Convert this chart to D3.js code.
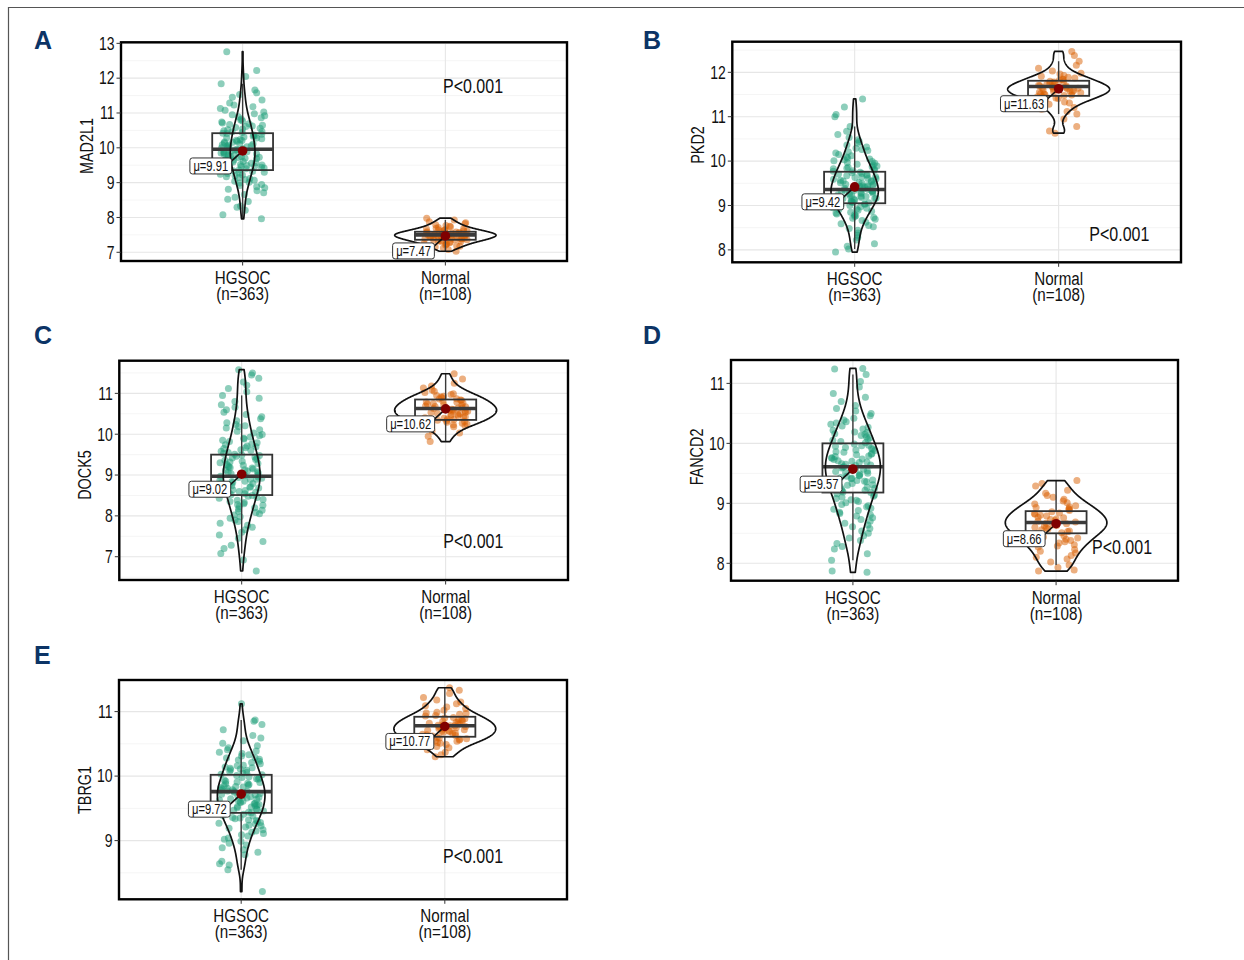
<!DOCTYPE html>
<html>
<head>
<meta charset="utf-8">
<script src="https://cdn.jsdelivr.net/npm/d3@7"></script>
<style>
  body { margin: 0; background: #fff; }
  svg { display: block; }
</style>
</head>
<body>
<svg id="fig" width="1244" height="960"></svg>
<script>
// ---------- data ----------
const groups = ["HGSOC", "Normal"];
const groupN = [363, 108];
const genes = ["MAD2L1", "PKD2", "DOCK5", "FANCD2", "TBRG1"];
const panelLetters = ["A", "B", "C", "D", "E"];
const pLabels = ["P<0.001", "P<0.001", "P<0.001", "P<0.001", "P<0.001"];

const yDomains = [[6.75, 13.03], [7.72, 12.69], [6.43, 11.80], [7.71, 11.39], [8.09, 11.49]];
const yTicks = [[7, 8, 9, 10, 11, 12, 13], [8, 9, 10, 11, 12], [7, 8, 9, 10, 11], [8, 9, 10, 11], [9, 10, 11]];

// group means (labelled) and box statistics [q1, median, q3]
const meanValues = [[9.91, 7.47], [9.42, 11.63], [9.02, 10.62], [9.57, 8.66], [9.72, 10.77]];
const boxStats = [
  [[9.36, 9.96, 10.42], [7.36, 7.50, 7.59]],
  [[9.05, 9.36, 9.76], [11.47, 11.68, 11.81]],
  [[8.51, 8.97, 9.50], [10.35, 10.63, 10.85]],
  [[9.18, 9.61, 10.00], [8.50, 8.68, 8.87]],
  [[9.43, 9.76, 10.02], [10.61, 10.78, 10.92]]
];

// expression values per sample
const MAD2L1_HGSOC = [7.96, 8.08, 8.21, 8.29, 8.33, 8.46, 8.52, 8.58, 8.66, 8.71,
  8.77, 8.81, 8.85, 8.88, 8.92, 8.95, 8.99, 9.01, 9.04, 9.07, 9.09, 9.12, 9.15, 9.17, 9.2, 9.22, 9.24,
  9.26, 9.28, 9.3, 9.32, 9.34, 9.36, 9.38, 9.4, 9.42, 9.44, 9.46, 9.47, 9.49,
  9.51, 9.52, 9.54, 9.56, 9.57, 9.59, 9.61, 9.62, 9.64, 9.65, 9.67, 9.69, 9.7, 9.72, 9.73, 9.74,
  9.76, 9.77, 9.79, 9.8, 9.82, 9.83, 9.85, 9.86, 9.88, 9.89, 9.91, 9.92, 9.94, 9.95, 9.97, 9.99,
  10.0, 10.02, 10.03, 10.05, 10.06, 10.08, 10.09, 10.11, 10.12, 10.14, 10.16, 10.17, 10.19, 10.21, 10.22, 10.24,
  10.26, 10.28, 10.29, 10.31, 10.33, 10.35, 10.37, 10.39, 10.41, 10.42, 10.44, 10.46, 10.47, 10.49,
  10.52, 10.54, 10.56, 10.58, 10.61, 10.63, 10.65, 10.67, 10.69, 10.71, 10.74,
  10.77, 10.8, 10.83, 10.86, 10.89, 10.92, 10.95, 10.98,
  11.03, 11.08, 11.13, 11.18, 11.23, 11.29, 11.37, 11.45, 11.53, 11.58, 11.66, 11.84, 12.05, 12.22, 12.76];
const MAD2L1_Normal = [7.03, 7.08, 7.12, 7.15, 7.17, 7.19, 7.21, 7.23, 7.25, 7.26, 7.28, 7.29,
  7.31, 7.32, 7.33, 7.34, 7.35, 7.36, 7.37, 7.38, 7.39, 7.395,
  7.40, 7.41, 7.42, 7.43, 7.44, 7.45, 7.46, 7.46, 7.47, 7.48, 7.48, 7.49, 7.5,
  7.5, 7.51, 7.52, 7.52, 7.53, 7.54, 7.55, 7.56, 7.56, 7.57, 7.58, 7.59, 7.6,
  7.61, 7.62, 7.63, 7.64, 7.65, 7.67, 7.68, 7.69, 7.71, 7.73, 7.75, 7.77, 7.79,
  7.82, 7.85, 7.88, 7.93, 7.98];

const PKD2_HGSOC = [7.95, 8.02, 8.08, 8.14, 8.22, 8.28, 8.33, 8.38, 8.44, 8.48,
  8.52, 8.55, 8.59, 8.62, 8.66, 8.69, 8.71, 8.73, 8.75, 8.77, 8.79, 8.81, 8.83, 8.85, 8.87, 8.89,
  8.91, 8.92, 8.94, 8.95, 8.97, 8.98, 9.0, 9.01, 9.03, 9.04, 9.06, 9.07, 9.08, 9.09,
  9.1, 9.11, 9.12, 9.14, 9.15, 9.16, 9.17, 9.18, 9.2, 9.21, 9.22, 9.23, 9.24, 9.26, 9.27, 9.28, 9.29,
  9.3, 9.31, 9.32, 9.33, 9.34, 9.35, 9.36, 9.37, 9.38, 9.39, 9.41, 9.42, 9.43, 9.44, 9.45, 9.46, 9.48, 9.49,
  9.5, 9.51, 9.52, 9.54, 9.55, 9.56, 9.57, 9.59, 9.6, 9.61, 9.63, 9.64, 9.65, 9.67, 9.68, 9.69,
  9.71, 9.72, 9.74, 9.75, 9.77, 9.78, 9.8, 9.81, 9.83, 9.84, 9.86, 9.87, 9.89,
  9.91, 9.93, 9.95, 9.97, 9.99, 10.01, 10.03, 10.05, 10.07, 10.09,
  10.12, 10.15, 10.18, 10.21, 10.24, 10.26, 10.29, 10.32, 10.36, 10.4, 10.44, 10.48,
  10.53, 10.6, 10.67, 10.78, 11.0, 11.05, 11.22, 11.4];
const PKD2_Normal = [10.63, 10.68, 10.78, 10.95, 11.06, 11.12, 11.17, 11.21, 11.25, 11.28,
  11.31, 11.33, 11.35, 11.37, 11.39, 11.41, 11.42, 11.44, 11.45, 11.46, 11.48, 11.49,
  11.5, 11.51, 11.52, 11.54, 11.55, 11.56, 11.57, 11.58, 11.59,
  11.6, 11.61, 11.62, 11.63, 11.64, 11.65, 11.66, 11.67, 11.68, 11.69,
  11.7, 11.71, 11.73, 11.74, 11.75, 11.76, 11.78, 11.79,
  11.8, 11.82, 11.84, 11.85, 11.87, 11.89, 11.91, 11.93, 11.96, 11.98,
  12.03, 12.09, 12.16, 12.25, 12.38, 12.47];

const DOCK5_HGSOC = [6.65, 6.92, 7.08, 7.2, 7.28, 7.37, 7.45, 7.53, 7.6, 7.66, 7.72,
  7.77, 7.82, 7.86, 7.9, 7.94, 7.98, 8.02, 8.05, 8.08, 8.11, 8.14, 8.17, 8.2, 8.23,
  8.26, 8.28, 8.3, 8.33, 8.35, 8.38, 8.4, 8.43, 8.45, 8.48,
  8.5, 8.52, 8.54, 8.56, 8.58, 8.6, 8.62, 8.64, 8.66, 8.68, 8.7, 8.72, 8.74,
  8.76, 8.77, 8.79, 8.8, 8.82, 8.84, 8.85, 8.87, 8.89, 8.9, 8.92, 8.94, 8.95, 8.97, 8.99,
  9.0, 9.02, 9.03, 9.05, 9.07, 9.08, 9.1, 9.12, 9.13, 9.15, 9.17, 9.18, 9.2, 9.22, 9.24,
  9.26, 9.28, 9.3, 9.32, 9.34, 9.36, 9.38, 9.4, 9.42, 9.44, 9.46, 9.48, 9.49,
  9.51, 9.53, 9.55, 9.58, 9.6, 9.62, 9.65, 9.67, 9.69, 9.71, 9.74,
  9.76, 9.79, 9.82, 9.85, 9.88, 9.9, 9.93, 9.96, 9.99,
  10.03, 10.07, 10.11, 10.15, 10.18, 10.21, 10.24, 10.28, 10.33, 10.38, 10.43, 10.48,
  10.54, 10.6, 10.66, 10.72, 10.8, 10.88, 10.95, 11.04, 11.12, 11.2, 11.28, 11.37, 11.45, 11.5, 11.58];
const DOCK5_Normal = [9.82, 9.95, 10.03, 10.08, 10.13, 10.18,
  10.21, 10.23, 10.25, 10.27, 10.29, 10.31, 10.33, 10.34, 10.36, 10.37, 10.39,
  10.4, 10.42, 10.43, 10.45, 10.46, 10.48, 10.49,
  10.5, 10.51, 10.53, 10.54, 10.56, 10.57, 10.58, 10.59,
  10.6, 10.61, 10.63, 10.64, 10.65, 10.67, 10.68, 10.69,
  10.71, 10.72, 10.74, 10.75, 10.77, 10.78, 10.79,
  10.81, 10.83, 10.84, 10.86, 10.87, 10.89, 10.91, 10.93, 10.95, 10.97, 10.99,
  11.02, 11.05, 11.08, 11.13, 11.18, 11.25, 11.35, 11.48];

const FANCD2_HGSOC = [7.85, 7.87, 8.05, 8.16, 8.24, 8.28, 8.33, 8.38,
  8.42, 8.46, 8.5, 8.54, 8.58, 8.61, 8.64, 8.67, 8.7, 8.73, 8.76, 8.79,
  8.81, 8.83, 8.85, 8.88, 8.9, 8.92, 8.94, 8.96, 8.98,
  9.01, 9.03, 9.05, 9.06, 9.08, 9.1, 9.12, 9.14, 9.16, 9.18, 9.19,
  9.21, 9.22, 9.24, 9.25, 9.27, 9.28, 9.3, 9.31, 9.33, 9.34, 9.36, 9.37, 9.38, 9.39,
  9.41, 9.42, 9.43, 9.45, 9.46, 9.47, 9.49, 9.5, 9.51, 9.53, 9.54, 9.55, 9.57, 9.58, 9.59,
  9.6, 9.61, 9.63, 9.64, 9.65, 9.66, 9.68, 9.69, 9.7, 9.71, 9.73, 9.74, 9.75, 9.76, 9.78, 9.79,
  9.81, 9.82, 9.83, 9.85, 9.86, 9.88, 9.89, 9.9, 9.92, 9.93, 9.95, 9.96, 9.97, 9.99,
  10.01, 10.03, 10.05, 10.07, 10.09, 10.11, 10.13, 10.15, 10.16, 10.18, 10.19,
  10.22, 10.24, 10.27, 10.29, 10.32, 10.34, 10.36, 10.39,
  10.42, 10.46, 10.5, 10.54, 10.58, 10.63, 10.7, 10.77, 10.83, 10.94,
  11.03, 11.15, 11.24, 11.25];
const FANCD2_Normal = [7.87, 7.89, 7.93, 7.97, 8.02, 8.07, 8.1, 8.13, 8.17, 8.2, 8.23,
  8.27, 8.29, 8.31, 8.34, 8.36, 8.38, 8.4, 8.42, 8.44,
  8.46, 8.48, 8.5, 8.51, 8.53, 8.54, 8.56, 8.57, 8.59, 8.6, 8.62, 8.63, 8.64,
  8.65, 8.66, 8.67, 8.69, 8.7, 8.71, 8.73, 8.74, 8.76, 8.77, 8.79, 8.8, 8.82, 8.83, 8.84,
  8.86, 8.88, 8.9, 8.91, 8.93, 8.94, 8.96, 8.99, 9.01, 9.04,
  9.07, 9.1, 9.13, 9.17, 9.22, 9.29, 9.33, 9.38];

const TBRG1_HGSOC = [8.21, 8.55, 8.62, 8.64, 8.68, 8.78, 8.82, 8.86, 8.89, 8.93,
  8.96, 8.99, 9.02, 9.04, 9.07, 9.09, 9.11, 9.13, 9.15, 9.17, 9.19, 9.21, 9.23, 9.24,
  9.26, 9.27, 9.28, 9.3, 9.31, 9.32, 9.34, 9.35, 9.36, 9.38, 9.39,
  9.41, 9.42, 9.43, 9.44, 9.45, 9.46, 9.47, 9.48, 9.49, 9.5, 9.51, 9.52, 9.53, 9.54,
  9.55, 9.56, 9.57, 9.58, 9.59, 9.6, 9.61, 9.62, 9.63, 9.64, 9.65, 9.66, 9.67, 9.68, 9.69,
  9.7, 9.71, 9.72, 9.73, 9.74, 9.75, 9.76, 9.77, 9.77, 9.78, 9.79, 9.8, 9.81, 9.82, 9.83, 9.84,
  9.85, 9.86, 9.87, 9.88, 9.89, 9.9, 9.91, 9.92, 9.94, 9.95, 9.96, 9.97, 9.98, 9.99,
  10.01, 10.02, 10.03, 10.05, 10.06, 10.07, 10.09, 10.1, 10.11, 10.12, 10.13, 10.14,
  10.16, 10.17, 10.19, 10.21, 10.23, 10.25, 10.26, 10.28, 10.29,
  10.31, 10.33, 10.35, 10.37, 10.39, 10.41, 10.44, 10.47, 10.51, 10.55, 10.59,
  10.63, 10.72, 10.8, 10.85, 10.87, 11.12];
const TBRG1_Normal = [10.3, 10.33, 10.37, 10.41, 10.44, 10.46, 10.49,
  10.51, 10.52, 10.54, 10.55, 10.56, 10.57, 10.58, 10.59,
  10.6, 10.61, 10.62, 10.63, 10.64, 10.65, 10.66, 10.67, 10.68, 10.69, 10.695,
  10.7, 10.71, 10.72, 10.73, 10.74, 10.75, 10.76, 10.77, 10.78, 10.78, 10.79, 10.8,
  10.81, 10.82, 10.83, 10.84, 10.85, 10.86, 10.87, 10.88, 10.89, 10.9,
  10.91, 10.93, 10.94, 10.96, 10.97, 10.98, 10.99,
  11.02, 11.05, 11.07, 11.09, 11.12, 11.15, 11.18, 11.22, 11.28, 11.33, 11.37];

const panelValues = [
  [MAD2L1_HGSOC, MAD2L1_Normal],
  [PKD2_HGSOC, PKD2_Normal],
  [DOCK5_HGSOC, DOCK5_Normal],
  [FANCD2_HGSOC, FANCD2_Normal],
  [TBRG1_HGSOC, TBRG1_Normal]
];

// ---------- layout & style ----------
const layout = [
  { x0: 121,   y0: 42.3,  x1: 567,  y1: 261,   letterX: 34,  letterY: 49,  pdx: 352, pdy: 51,  titleY: 146 },
  { x0: 732.3, y0: 41.7,  x1: 1181, y1: 262.3, letterX: 643, letterY: 49,  pdx: 387, pdy: 199, titleY: 145 },
  { x0: 119.3, y0: 360.7, x1: 568,  y1: 580,   letterX: 34,  letterY: 344, pdx: 354, pdy: 187, titleY: 475 },
  { x0: 731,   y0: 360,   x1: 1178, y1: 580.7, letterX: 643, letterY: 344, pdx: 391, pdy: 194, titleY: 457 },
  { x0: 119,   y0: 680,   x1: 567,  y1: 899.3, letterX: 34,  letterY: 664, pdx: 354, pdy: 183, titleY: 790 }
];
const groupColors = ["#1B9E77", "#D95F02"];
const FONT = "'Liberation Sans', Arial, sans-serif";
const SX = 0.8;            // horizontal squeeze for a narrow face
const TEXT_COL = "#111";

const svg = d3.select("#fig");

// outer figure frame
svg.append("path")
  .attr("d", "M8.5,960V7.5H1244")
  .attr("fill", "none").attr("stroke", "#555").attr("stroke-width", 1.2);

function label(g, x, y, s, o) {
  const rot = o.rot ? ` rotate(${o.rot})` : "";
  return g.append("text")
    .attr("transform", `translate(${x},${y})${rot} scale(${o.sx ?? SX},1)`)
    .attr("text-anchor", o.anchor || "middle")
    .attr("font-family", o.family || FONT)
    .attr("font-size", o.size)
    .attr("font-weight", o.weight || "normal")
    .attr("fill", o.fill || TEXT_COL)
    .attr("dy", o.dy || 0)
    .text(s);
}

// Gaussian kernel density, trimmed to the data range (bw.nrd0 rule)
function density(values, n) {
  const v = values.slice().sort(d3.ascending);
  const sd = d3.deviation(v);
  const iqr = d3.quantile(v, 0.75) - d3.quantile(v, 0.25);
  const bw = 0.9 * Math.min(sd, iqr / 1.34) * Math.pow(n, -0.2);
  const lo = v[0], hi = v[v.length - 1];
  const out = [];
  const K = 220;
  for (let k = 0; k <= K; k++) {
    const y = lo + (hi - lo) * k / K;
    let s = 0;
    for (const x of v) { const z = (y - x) / bw; s += Math.exp(-0.5 * z * z); }
    out.push([y, s / (v.length * bw * Math.sqrt(2 * Math.PI))]);
  }
  return out;
}

function hash(i, seed) {
  const s = Math.sin((i + 1) * 12.9898 + seed * 78.233) * 43758.5453;
  return s - Math.floor(s);
}

genes.forEach((gene, pi) => {
  const L = layout[pi];
  const g = svg.append("g");

  const x = d3.scalePoint().domain(groups).range([L.x0, L.x1]).padding(0.6);
  const y = d3.scaleLinear().domain(yDomains[pi]).range([L.y1, L.y0]);
  const step = x.step();

  // grid
  const [d0, d1] = yDomains[pi];
  const minor = d3.range(Math.floor(d0), Math.ceil(d1) + 1).map(t => t + 0.5).filter(t => t > d0 && t < d1);
  g.selectAll(".gmin").data(minor).join("line")
    .attr("x1", L.x0).attr("x2", L.x1).attr("y1", d => y(d)).attr("y2", d => y(d))
    .attr("stroke", "#f2f2f2").attr("stroke-width", 0.8);
  g.selectAll(".gmaj").data(yTicks[pi]).join("line")
    .attr("x1", L.x0).attr("x2", L.x1).attr("y1", d => y(d)).attr("y2", d => y(d))
    .attr("stroke", "#e6e6e6").attr("stroke-width", 1.1);
  g.selectAll(".gx").data(groups).join("line")
    .attr("x1", d => x(d)).attr("x2", d => x(d)).attr("y1", L.y0).attr("y2", L.y1)
    .attr("stroke", "#e6e6e6").attr("stroke-width", 1.1);

  // densities, scaled by area within the panel
  const dens = panelValues[pi].map((vals, gi) => density(vals, groupN[gi]));
  const maxD = d3.max(dens.flat(), d => d[1]);
  const wScale = d3.scaleLinear().domain([0, maxD]).range([0, 0.25 * step]);

  groups.forEach((grp, gi) => {
    const vals = panelValues[pi][gi];
    const cx = x(grp);

    // jittered samples
    g.append("g").selectAll("circle").data(vals).join("circle")
      .attr("cx", (d, i) => cx + (hash(i, pi * 2 + gi) - 0.5) * 2 * 0.11 * step)
      .attr("cy", d => y(d))
      .attr("r", 3.5)
      .attr("fill", groupColors[gi])
      .attr("fill-opacity", 0.5);

    // box + whiskers
    const [q1, med, q3] = boxStats[pi][gi];
    const iqr = q3 - q1;
    const sorted = vals.slice().sort(d3.ascending);
    const wLo = d3.min(sorted.filter(v => v >= q1 - 1.5 * iqr));
    const wHi = d3.max(sorted.filter(v => v <= q3 + 1.5 * iqr));
    const bw = 0.15 * step;
    g.append("line").attr("x1", cx).attr("x2", cx).attr("y1", y(q3)).attr("y2", y(wHi))
      .attr("stroke", "#3a3a3a").attr("stroke-width", 1.4);
    g.append("line").attr("x1", cx).attr("x2", cx).attr("y1", y(q1)).attr("y2", y(wLo))
      .attr("stroke", "#3a3a3a").attr("stroke-width", 1.4);
    g.append("rect").attr("x", cx - bw).attr("width", 2 * bw)
      .attr("y", y(q3)).attr("height", y(q1) - y(q3))
      .attr("fill", "none").attr("stroke", "#333").attr("stroke-width", 1.8);
    g.append("line").attr("x1", cx - bw).attr("x2", cx + bw).attr("y1", y(med)).attr("y2", y(med))
      .attr("stroke", "#3a3a3a").attr("stroke-width", 3.6);

    // violin outline
    const d = dens[gi];
    const outline = d.map(p => [cx + wScale(p[1]), y(p[0])])
      .concat(d.slice().reverse().map(p => [cx - wScale(p[1]), y(p[0])]));
    g.append("path")
      .attr("d", d3.line().curve(d3.curveLinearClosed)(outline))
      .attr("fill", "none").attr("stroke", "#111").attr("stroke-width", 1.7)
      .attr("stroke-linejoin", "round");

    // mean marker and its label
    const m = meanValues[pi][gi];
    const mx = cx, my = y(m);
    const lab = g.append("g");
    const t = label(lab, 0, 0, `\u03bc=${m.toFixed(2)}`, { size: 14, anchor: "middle" });
    const tw = t.node().getComputedTextLength() * SX;
    const boxW = tw + 7, boxH = 16;
    const right = mx - 11, top = my + 7;
    g.append("line").attr("x1", mx).attr("y1", my).attr("x2", right - 1).attr("y2", top + 4)
      .attr("stroke", "#111").attr("stroke-width", 1.6);
    g.append("circle").attr("cx", mx).attr("cy", my).attr("r", 4.8).attr("fill", "#800000");
    lab.raise();
    lab.insert("rect", "text")
      .attr("x", right - boxW).attr("y", top).attr("width", boxW).attr("height", boxH)
      .attr("rx", 2.5).attr("fill", "#fff").attr("stroke", "#333").attr("stroke-width", 1);
    t.attr("transform", `translate(${right - boxW / 2},${top + boxH / 2 + 5}) scale(${SX},1)`);
  });

  // panel border
  g.append("rect").attr("x", L.x0).attr("y", L.y0)
    .attr("width", L.x1 - L.x0).attr("height", L.y1 - L.y0)
    .attr("fill", "none").attr("stroke", "#000").attr("stroke-width", 2.4);

  // y axis ticks and labels
  g.selectAll(".yt").data(yTicks[pi]).join("line")
    .attr("x1", L.x0 - 4.5).attr("x2", L.x0).attr("y1", d => y(d)).attr("y2", d => y(d))
    .attr("stroke", "#333").attr("stroke-width", 1);
  yTicks[pi].forEach(v => label(g, L.x0 - 6.5, y(v), String(v), { size: 17.5, anchor: "end", dy: "0.36em" }));

  // x axis ticks and two-line category labels
  groups.forEach((grp, gi) => {
    g.append("line").attr("x1", x(grp)).attr("x2", x(grp)).attr("y1", L.y1).attr("y2", L.y1 + 4.5)
      .attr("stroke", "#333").attr("stroke-width", 1);
    const t = label(g, x(grp), L.y1 + 23, "", { size: 19 });
    t.append("tspan").attr("x", 0).attr("y", 0).text(grp);
    t.append("tspan").attr("x", 0).attr("y", 16).text(`(n=${groupN[gi]})`);
  });

  // axis title
  label(g, L.x0 - 28, L.titleY, gene, { size: 18, rot: -90 });

  // test annotation
  label(g, L.x0 + L.pdx, L.y0 + L.pdy, pLabels[pi], { size: 20 });

  // panel letter
  label(svg, L.letterX, L.letterY, panelLetters[pi],
    { size: 25, weight: "bold", anchor: "start", sx: 1, fill: "#0c3466" });
});
</script>
</body>
</html>
